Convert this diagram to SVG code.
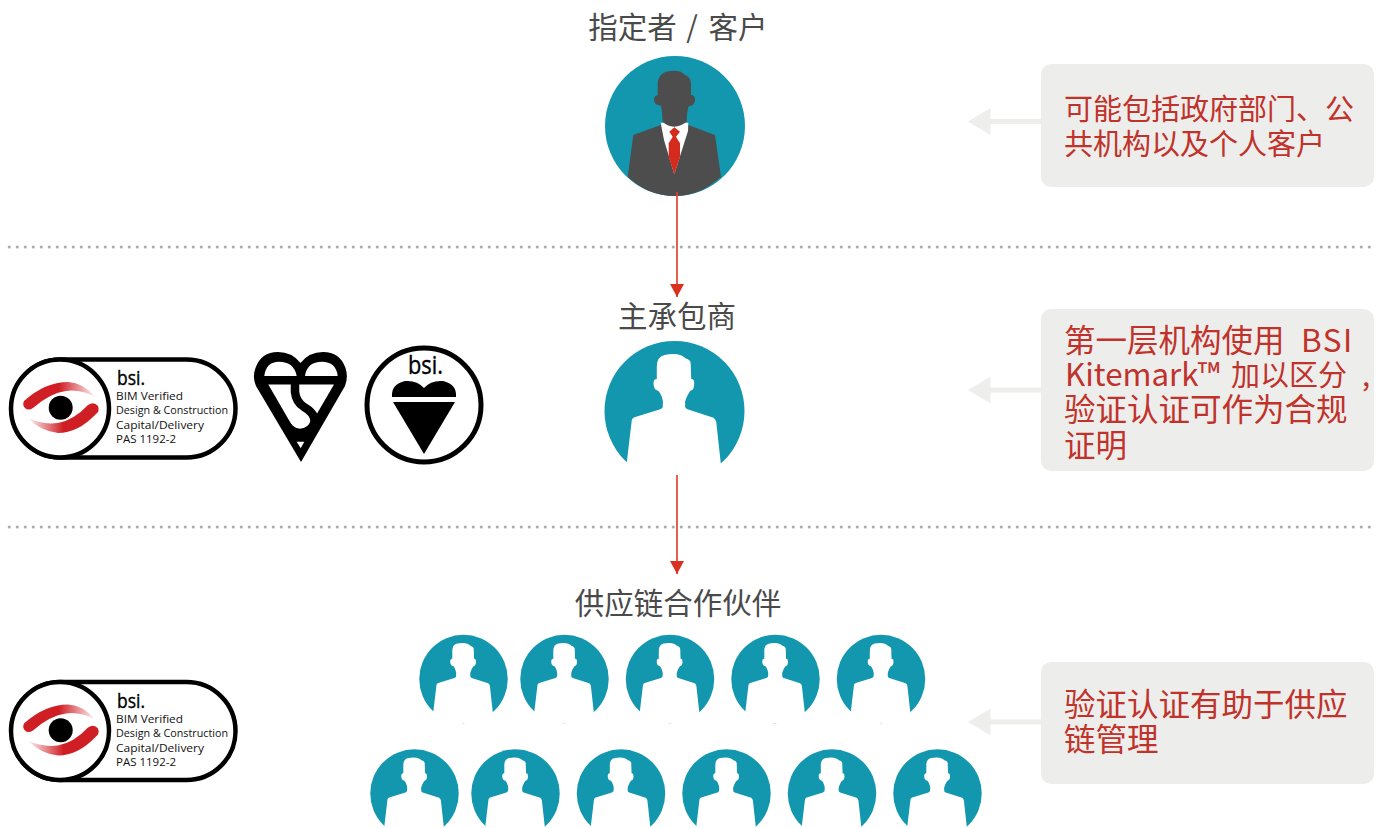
<svg xmlns="http://www.w3.org/2000/svg" width="1383" height="828" viewBox="0 0 1383 828">
<style>
.t{font-family:"Noto Sans CJK SC","Liberation Sans",sans-serif;font-size:29.5px;fill:#4a4a4a;text-anchor:middle}
.r{font-family:"Noto Sans CJK SC","Liberation Sans",sans-serif;font-size:31.5px;fill:#c0322a}
.r1{font-size:29px}
.r2{font-size:29px}
.b{fill:#ededeb}
.g{fill:#eeeeec}
.s{font-family:"Open Sans","Liberation Sans",sans-serif;font-size:11px;fill:#111}
.bsi{font-family:"Open Sans","Liberation Sans",sans-serif;fill:#000;stroke:#000;stroke-width:.4}
.d{stroke:#a8a8a8;stroke-width:3.200;stroke-dasharray:0 8;stroke-linecap:round;fill:none}
</style>
<defs>
<path id="pp" d="M-47.7 51.300L-42.7 9Q-42 7-40 6.300L-14.3-1.700Q-11-3-11.7-6Q-11-10-12.7-14.300Q-14-18-16-20Q-21-21-21-27.700Q-21-32-17.700-32L-17.700-44.300Q-18-54-10-56Q0-58 7-55.500Q10-54 11-52.700Q16.500-51 16.200-47L16.700-32Q20-32 19.700-27.700Q20-21 15.700-20Q13-16 11.700-12.700Q10-9 10.700-6Q10-3 13-1.700L39 6.700Q41 8 41.700 10.700L46.300 52.300L46.300 69.600L-47.700 69.600Z"/>
<symbol id="person" overflow="visible">
<circle r="70" fill="#1397ae"/>
<use href="#pp" fill="#fff"/>
</symbol>
<linearGradient id="f1" x1="0" x2="1" y1="0" y2="0"><stop offset="0" stop-color="#d01f24"/><stop offset=".5" stop-color="#d01f24"/><stop offset="1" stop-color="#d01f24" stop-opacity=".05"/></linearGradient>
<linearGradient id="f2" x1="1" x2="0" y1="0" y2="0"><stop offset="0" stop-color="#d01f24"/><stop offset=".5" stop-color="#d01f24"/><stop offset="1" stop-color="#d01f24" stop-opacity=".05"/></linearGradient>
<symbol id="badge" overflow="visible">
<rect x="11.500" y="359.500" width="224" height="98" rx="49" fill="#fff" stroke="#000" stroke-width="4.500"/>
<circle cx="60" cy="408.500" r="49" fill="#fff" stroke="#000" stroke-width="4.500"/>
<path d="M24 401Q45 382 68 382Q84 383 95 397Q80 389 66 391Q50 393 33 408Q28 411 25 408Q22 405 24 401Z" fill="url(#f1)"/>
<path d="M98 406Q100 411 96 414Q78 433 58 433Q40 431 28 418Q42 425 58 423Q74 420 88 405Q94 401 98 406Z" fill="url(#f2)"/>
<circle cx="60.700" cy="407.700" r="12" fill="#000"/>
<text class="bsi" x="117" y="385" font-size="20" textLength="28" lengthAdjust="spacingAndGlyphs">bsi.</text>
<text class="s" x="116" y="400" textLength="67" lengthAdjust="spacingAndGlyphs">BIM Verified</text>
<text class="s" x="116" y="414" textLength="112" lengthAdjust="spacingAndGlyphs">Design &amp; Construction</text>
<text class="s" x="116" y="429" textLength="88" lengthAdjust="spacingAndGlyphs">Capital/Delivery</text>
<text class="s" x="116" y="443" textLength="60" lengthAdjust="spacingAndGlyphs">PAS 1192-2</text>
</symbol>
<marker id="ah" markerUnits="userSpaceOnUse" markerWidth="16" markerHeight="14" refX="14" refY="7" orient="auto"><path d="M1 0L14 7L1 14Z" fill="#d9301f"/></marker>
</defs>
<g id="dividers">
<path class="d" d="M9.300 247H1370" stroke-opacity=".95"/>
<path class="d" d="M9.300 527H1370" stroke-opacity=".95"/>
</g>
<g id="client">
<text class="t" x="677" y="38"><tspan x="632.500">指定者</tspan><tspan x="692">/</tspan><tspan x="738">客户</tspan></text>
<circle cx="675" cy="126" r="70" fill="#1397ae"/>
<path fill="#4d4d4d" d="M627.700 176.700L633.300 135L660.700 125H688.300L715 135L721 176.700Q700 196 675 196Q648 196 627.700 176.700Z"/>
<path fill="#fff" d="M660.700 122.700H688.300L688 131L674.300 174.300L664 140Z"/>
<path fill="#4d4d4d" d="M673.300 70.700Q682 70.700 685 75Q691 77 691 84V95Q695 95 695 100Q695 105.500 688.300 106.700Q686.500 116 686.700 121.700Q681 126 674 126.700Q667 126 662.700 121.700Q662.500 113 661 105.700Q654 105 654 100Q654 96 657.700 95V81.700Q660 70.700 673.300 70.700Z"/>
<path fill="#d52b1e" d="M674.300 127.300L680 131.700L676 136.700L680 143.300V156.700L674.300 174.300L668.700 156.700V143.300L672.700 136.700L669.300 131.700Z"/>
</g>
<g id="contractor">
<text class="t" x="677" y="327">主承包商</text>
<use href="#person" x="674.500" y="411"/>
<rect x="620" y="463" width="110" height="20" fill="#fff"/>
</g>
<g id="badge-contractor"><use href="#badge"/></g>
<g id="kitemark">
<path fill="#000" d="M301 462L256 386Q252 377 255.500 368Q261 352 278 352Q292 352 300.500 363Q309 352 323 352Q340 352 345.500 368Q348.500 377 345 386Z"/>
<path fill="#fff" d="M264.300 376Q266 361.700 279 361.700Q294 361.700 296.700 376Z"/>
<path fill="#fff" d="M305 376Q307 361.700 322 361.700Q336 361.700 337.700 376Z"/>
<path fill="#fff" d="M268.300 384.500H334L301 441Z"/>
<path fill="#000" d="M294 433H308V442H294Z"/>
<path fill="none" stroke="#000" stroke-width="8.500" d="M295 382V392Q296 402 304 407Q315 413 314.500 422Q312 432 300 433Q290 433 284 421"/>
<path fill="#fff" d="M296.700 441.700H304.300L300.700 448.300Z"/>
</g>
<g id="bsi-kitemark">
<circle cx="424" cy="405" r="57" fill="#fff" stroke="#000" stroke-width="5"/>
<text class="bsi" x="408" y="374" font-size="25" textLength="35" lengthAdjust="spacingAndGlyphs">bsi.</text>
<path fill="#000" d="M392 397Q391 384 405 381Q417 380 424 388Q431 380 443 381Q457 384 456 397Z"/>
<path fill="#000" d="M393 402H455L424 454Z"/>
</g>
<g id="note1">
<rect class="b" x="1041" y="64" width="333" height="123" rx="10"/>
<text class="r r1" x="1064" y="120">可能包括政府部门、公</text>
<text class="r r1" x="1064" y="155">共机构以及个人客户</text>
</g>
<g id="note2">
<rect class="b" x="1041" y="309" width="333" height="162" rx="10"/>
<text class="r" x="1064" y="352">第一层机构使用<tspan x="1301" letter-spacing="1.500">BSI</tspan></text>
<text class="r" x="1065" y="386" textLength="155" lengthAdjust="spacingAndGlyphs">Kitemark™</text>
<text class="r r2" x="1231" y="386">加以区分<tspan x="1362">,</tspan></text>
<text class="r" x="1064" y="421">验证认证可作为合规</text>
<text class="r" x="1064" y="457">证明</text>
</g>
<g id="note3">
<rect class="b" x="1041" y="662" width="333" height="122" rx="10"/>
<text class="r" x="1064" y="716">验证认证有助于供应</text>
<text class="r" x="1064" y="751">链管理</text>
</g>
<g id="supply-chain">
<text class="t" x="678" y="614">供应链合作伙伴</text>
<use href="#person" transform="translate(463.500 679) scale(.632)"/>
<use href="#person" transform="translate(564.500 679) scale(.632)"/>
<use href="#person" transform="translate(670 679) scale(.632)"/>
<use href="#person" transform="translate(775.500 679) scale(.632)"/>
<use href="#person" transform="translate(881 679) scale(.632)"/>
<use href="#person" transform="translate(414.500 793.500) scale(.632)"/>
<use href="#person" transform="translate(515.500 793.500) scale(.632)"/>
<use href="#person" transform="translate(621 793.500) scale(.632)"/>
<use href="#person" transform="translate(726.500 793.500) scale(.632)"/>
<use href="#person" transform="translate(832 793.500) scale(.632)"/>
<use href="#person" transform="translate(937.500 793.500) scale(.632)"/>
</g>
<g id="badge-supply"><use href="#badge" y="322.500"/></g>
<g id="connectors" fill="none" stroke="#e0452f" stroke-width="1.700">
<path d="M677 192V297" marker-end="url(#ah)"/>
<path d="M677 475V574" marker-end="url(#ah)"/>
<path d="M1041 121.500H988" stroke="#eeeeec" stroke-width="5"/>
<path class="g" stroke="none" d="M968 121.500L990.500 108V135Z"/>
<path d="M1041 390H988" stroke="#eeeeec" stroke-width="5"/>
<path class="g" stroke="none" d="M968 390L990.500 376.500V403.500Z"/>
<path d="M1041 722H988" stroke="#eeeeec" stroke-width="5"/>
<path class="g" stroke="none" d="M968 722L990.500 708.500V735.500Z"/>
</g>
</svg>
